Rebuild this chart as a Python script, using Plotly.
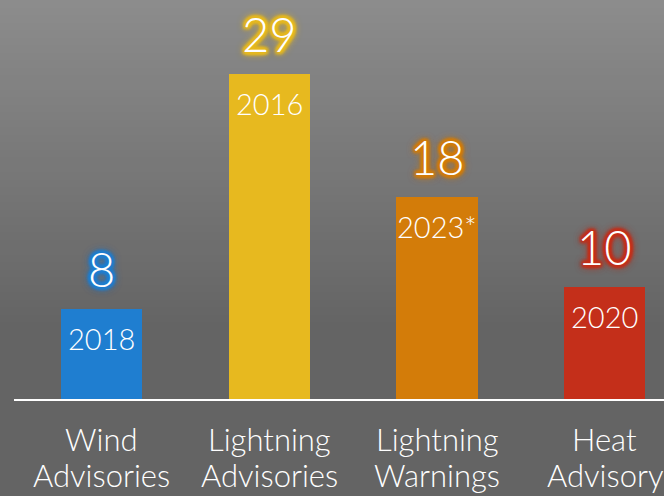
import plotly.graph_objects as go

categories = ["Wind<br>Advisories", "Lightning<br>Advisories", "Lightning<br>Warnings", "Heat<br>Advisory"]
values = [8, 29, 18, 10]
years = ["2018", "2016", "2023*", "2020"]
colors = ["#1f7ed0", "#e7b91f", "#d37c09", "#c42f1a"]

W, H = 664, 496
ml, mt, mb, mr = 14, 0, 97, 0
plot_h = H - mt - mb

fig = go.Figure()
fig.add_trace(go.Bar(
    x=list(range(len(categories))), y=values,
    marker=dict(color=colors, line=dict(width=0)),
    width=0.484, hoverinfo="skip",
))

font_family = "Lato, 'Open Sans', sans-serif"
offsets = [(2, 0), (-2, 0), (0, 2), (0, -2), (2, 2), (-2, 2), (2, -2), (-2, -2)]
for i, (v, yr, c) in enumerate(zip(values, years, colors)):
    parts = [f"{dx}px {dy}px 3px {c}" for dx, dy in offsets]
    parts += [f"0 0 {b}px {c}" for b in (4, 6, 8, 10)]
    glow = ", ".join(parts)
    fig.add_annotation(x=i, y=v, yref="y", xref="x", text=str(v), showarrow=False,
                       yshift=40, yanchor="middle",
                       font=dict(size=47, color="white", family=font_family, weight=300, shadow=glow))
    fig.add_annotation(x=i, y=v, yref="y", xref="x", text=yr, showarrow=False,
                       yshift=-29, yanchor="middle",
                       font=dict(size=29, color="white", family=font_family, weight=300))

# category labels, two lines each (real text)
for i, cat in enumerate(categories):
    for j, line in enumerate(cat.split("<br>")):
        fig.add_annotation(x=i, y=0, xref="x", yref="paper", text=line, showarrow=False,
                           yanchor="middle", yshift=-40 - 36 * j,
                           font=dict(size=31, color="white", family=font_family, weight=300))

# vertical gradient background (decoration)
top = (140, 140, 140)
bot = (100, 100, 100)
grad_px = 330
n = 44
shapes = []
for k in range(n):
    p0 = grad_px * k / n
    p1 = grad_px * (k + 1) / n + 1
    t = (k + 0.5) / n
    col = tuple(round(top[j] + (bot[j] - top[j]) * t) for j in range(3))
    shapes.append(dict(type="rect", xref="paper", yref="paper",
                       x0=-0.1, x1=1.1, y0=1 - p1 / plot_h, y1=1 - p0 / plot_h,
                       fillcolor="rgb(%d,%d,%d)" % col, line=dict(width=0), layer="below"))

fig.update_layout(
    width=W, height=H,
    margin=dict(l=ml, r=mr, t=mt, b=mb, autoexpand=False),
    paper_bgcolor="rgb(100,100,100)",
    plot_bgcolor="rgba(0,0,0,0)",
    showlegend=False,
    shapes=shapes,
    bargap=0,
    xaxis=dict(range=[-0.525, 3.355], tickvals=list(range(len(categories))),
               showticklabels=False, showgrid=False, zeroline=False,
               showline=True, linecolor="white", linewidth=2, ticks="",
               automargin=False, fixedrange=True),
    yaxis=dict(range=[0, 35.625], visible=False, fixedrange=True),
)

fig.write_html("out.html", config={"displayModeBar": False},
               post_script="document.body.style.margin='0';document.body.style.overflow='hidden';")
